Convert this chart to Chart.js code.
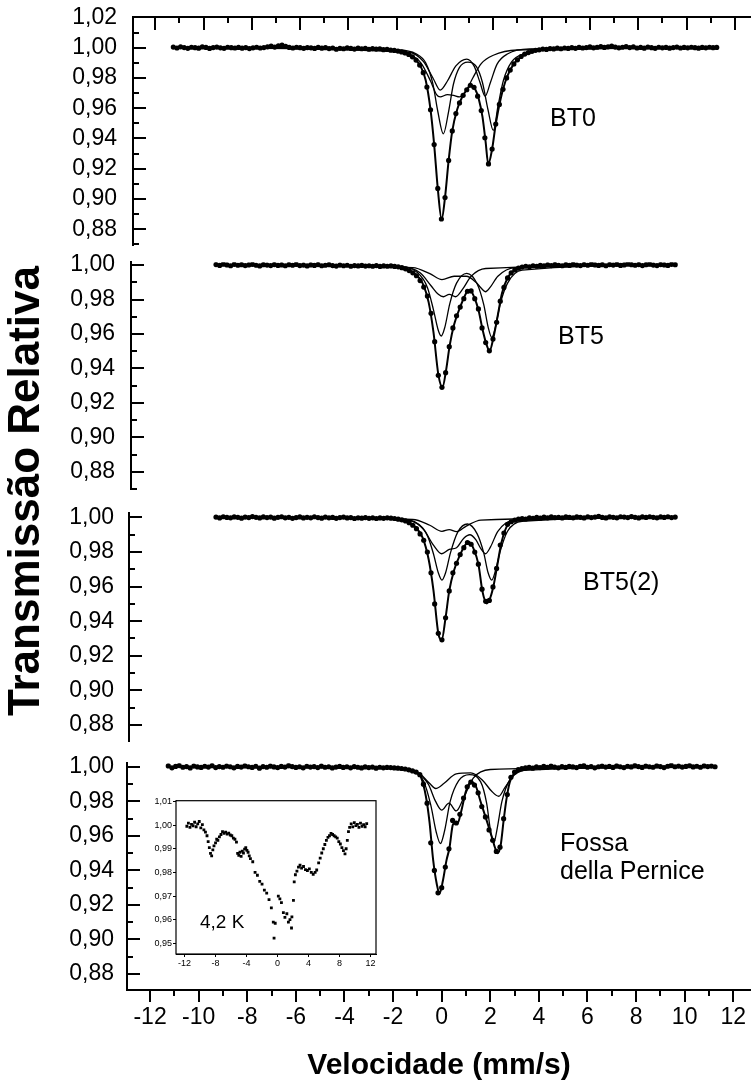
<!DOCTYPE html>
<html lang="pt">
<head>
<meta charset="utf-8">
<title>Espectros Mössbauer</title>
<script src="https://cdn.jsdelivr.net/npm/chart.js@4.4.1/dist/chart.umd.min.js"></script>
<style>
  html, body { margin: 0; padding: 0; background: #fff; }
  #fig { position: relative; width: 751px; height: 1091px; overflow: hidden; background: #fff;
         font-family: 'Liberation Sans', Arial, Helvetica, sans-serif; color: #000; }
  #fig canvas { position: absolute; }
  .txt { position: absolute; white-space: nowrap; line-height: 1; }
</style>
</head>
<body>
<div id="fig">
  <canvas id="pBT0"  width="751" height="258" style="left:0;top:0;width:751px;height:258px"></canvas>
  <canvas id="pBT5"  width="751" height="250" style="left:0;top:250px;width:751px;height:250px"></canvas>
  <canvas id="pBT52" width="751" height="250" style="left:0;top:500px;width:751px;height:250px"></canvas>
  <canvas id="pFP"   width="751" height="341" style="left:0;top:750px;width:751px;height:341px"></canvas>
  <canvas id="pInset" width="240" height="190" style="left:140px;top:790px;width:240px;height:190px"></canvas>

  <div class="txt" style="left:24px;top:491px;font-size:44px;font-weight:bold;transform:translate(-50%,-50%) rotate(-90deg);">Transmissão Relativa</div>
  <div class="txt" style="left:550px;top:105px;font-size:25px;">BT0</div>
  <div class="txt" style="left:558px;top:323px;font-size:25px;">BT5</div>
  <div class="txt" style="left:583px;top:569px;font-size:25px;">BT5(2)</div>
  <div class="txt" style="left:560px;top:830px;font-size:25px;">Fossa</div>
  <div class="txt" style="left:560px;top:858px;font-size:25px;">della Pernice</div>
  <div class="txt" style="left:200px;top:912px;font-size:19px;">4,2 K</div>
</div>

<script>
// ---- velocity channels (mm/s) ----
const velWide = [
  -11.25,-11.10,-10.95,-10.80,-10.65,-10.50,-10.35,-10.20,-10.05,-9.90,
  -9.75,-9.60,-9.45,-9.30,-9.15,-9.00,-8.85,-8.70,-8.55,-8.40,
  -8.25,-8.10,-7.95,-7.80,-7.65,-7.50,-7.35,-7.20,-7.05,-6.90,
  -6.75,-6.60,-6.45,-6.30,-6.15,-6.00,-5.85,-5.70,-5.55,-5.40,
  -5.25,-5.10,-4.95,-4.80,-4.65,-4.50,-4.35,-4.20,-4.05,-3.90,
  -3.75,-3.60,-3.45,-3.30,-3.15,-3.00,-2.85,-2.70,-2.55,-2.40,
  -2.25,-2.10,-1.95,-1.80,-1.65,-1.50,-1.35,-1.20,-1.05,-0.90,
  -0.75,-0.60,-0.45,-0.30,-0.15,0.00,0.15,0.30,0.45,0.60,
  0.75,0.90,1.05,1.20,1.35,1.50,1.65,1.80,1.95,2.10,
  2.25,2.40,2.55,2.70,2.85,3.00,3.15,3.30,3.45,3.60,
  3.75,3.90,4.05,4.20,4.35,4.50,4.65,4.80,4.95,5.10,
  5.25,5.40,5.55,5.70,5.85,6.00,6.15,6.30,6.45,6.60,
  6.75,6.90,7.05,7.20,7.35,7.50,7.65,7.80,7.95,8.10,
  8.25,8.40,8.55,8.70,8.85,9.00,9.15,9.30,9.45,9.60,
  9.75,9.90,10.05,10.20,10.35,10.50,10.65,10.80,10.95,11.10,
  11.25
];
const velNarrow = [
  -9.30,-9.15,-9.00,-8.85,-8.70,-8.55,-8.40,-8.25,-8.10,-7.95,
  -7.80,-7.65,-7.50,-7.35,-7.20,-7.05,-6.90,-6.75,-6.60,-6.45,
  -6.30,-6.15,-6.00,-5.85,-5.70,-5.55,-5.40,-5.25,-5.10,-4.95,
  -4.80,-4.65,-4.50,-4.35,-4.20,-4.05,-3.90,-3.75,-3.60,-3.45,
  -3.30,-3.15,-3.00,-2.85,-2.70,-2.55,-2.40,-2.25,-2.10,-1.95,
  -1.80,-1.65,-1.50,-1.35,-1.20,-1.05,-0.90,-0.75,-0.60,-0.45,
  -0.30,-0.15,0.00,0.15,0.30,0.45,0.60,0.75,0.90,1.05,
  1.20,1.35,1.50,1.65,1.80,1.95,2.10,2.25,2.40,2.55,
  2.70,2.85,3.00,3.15,3.30,3.45,3.60,3.75,3.90,4.05,
  4.20,4.35,4.50,4.65,4.80,4.95,5.10,5.25,5.40,5.55,
  5.70,5.85,6.00,6.15,6.30,6.45,6.60,6.75,6.90,7.05,
  7.20,7.35,7.50,7.65,7.80,7.95,8.10,8.25,8.40,8.55,
  8.70,8.85,9.00,9.15,9.30,9.45,9.60
];

// ---- measured relative transmission ----
const bt0Trans = [
  1.0004,0.9998,1.0006,1.0001,0.9996,1.0003,1.0000,0.9997,1.0005,1.0002,
  0.9995,1.0001,1.0004,0.9999,0.9996,1.0003,1.0000,0.9998,1.0002,0.9997,
  1.0001,0.9994,0.9999,1.0003,0.9998,1.0001,1.0006,1.0010,1.0004,1.0012,
  1.0017,1.0009,1.0002,0.9998,1.0003,1.0000,0.9996,1.0001,0.9999,0.9995,
  1.0002,0.9997,1.0000,0.9994,0.9998,0.9990,0.9996,0.9993,0.9999,0.9995,
  0.9991,0.9997,0.9993,0.9996,0.9990,0.9994,0.9991,0.9993,0.9987,0.9989,
  0.9984,0.9982,0.9978,0.9972,0.9965,0.9955,0.9940,0.9918,0.9885,0.9835,
  0.9740,0.9590,0.9360,0.9070,0.8868,0.9010,0.9255,0.9450,0.9565,0.9635,
  0.9685,0.9722,0.9752,0.9738,0.9680,0.9585,0.9405,0.9232,0.9330,0.9495,
  0.9625,0.9725,0.9800,0.9852,0.9893,0.9920,0.9942,0.9958,0.9968,0.9976,
  0.9983,0.9986,0.9991,0.9989,0.9994,0.9992,0.9997,0.9993,0.9998,0.9995,
  1.0000,0.9996,1.0002,0.9998,1.0001,1.0005,0.9999,1.0003,1.0008,1.0002,
  1.0006,1.0011,1.0004,0.9999,1.0003,1.0007,1.0001,1.0005,0.9998,1.0002,
  0.9997,1.0004,1.0000,0.9996,1.0003,0.9999,1.0002,0.9997,1.0001,1.0004,
  0.9998,1.0002,0.9999,1.0003,1.0000,0.9997,1.0002,0.9999,1.0003,1.0000,
  1.0002
];
const bt5Trans = [
  1.0003,0.9998,1.0005,1.0001,0.9996,1.0004,0.9999,1.0002,0.9997,1.0001,
  1.0004,0.9999,0.9995,1.0002,1.0000,0.9997,1.0003,0.9998,1.0001,0.9996,
  1.0002,0.9999,1.0004,0.9997,1.0000,0.9995,1.0001,0.9998,1.0003,0.9996,
  0.9999,1.0002,0.9997,0.9994,1.0000,0.9996,0.9999,0.9993,0.9997,0.9995,
  0.9998,0.9994,0.9996,0.9993,0.9997,0.9992,0.9995,0.9993,0.9995,0.9992,
  0.9990,0.9985,0.9978,0.9968,0.9955,0.9938,0.9910,0.9872,0.9820,0.9720,
  0.9555,0.9360,0.9290,0.9375,0.9526,0.9635,0.9705,0.9756,0.9805,0.9848,
  0.9850,0.9805,0.9745,0.9635,0.9550,0.9502,0.9570,0.9668,0.9790,0.9870,
  0.9925,0.9955,0.9972,0.9982,0.9988,0.9993,0.9990,0.9996,0.9993,0.9998,
  0.9995,1.0001,0.9997,1.0003,0.9999,0.9996,1.0002,0.9998,1.0004,1.0000,
  0.9997,1.0003,0.9999,1.0005,1.0001,0.9998,1.0002,0.9996,1.0003,1.0000,
  1.0004,0.9998,1.0001,1.0006,1.0002,0.9999,1.0003,0.9997,1.0002,1.0005,
  1.0000,0.9997,1.0003,1.0001,0.9998,1.0004,1.0002
];
const bt52Trans = [
  1.0002,0.9997,1.0004,1.0000,0.9998,1.0003,1.0001,0.9996,1.0002,0.9999,
  1.0005,1.0001,0.9997,1.0003,0.9999,1.0002,0.9996,1.0001,1.0004,0.9998,
  1.0001,0.9995,0.9999,1.0003,0.9997,1.0001,0.9998,1.0004,0.9999,0.9996,
  1.0002,0.9998,1.0000,0.9995,0.9999,1.0002,0.9997,0.9999,0.9994,0.9998,
  0.9996,0.9999,0.9995,0.9998,0.9994,0.9997,0.9995,0.9998,0.9996,0.9994,
  0.9990,0.9986,0.9980,0.9970,0.9955,0.9935,0.9905,0.9868,0.9800,0.9680,
  0.9500,0.9330,0.9292,0.9420,0.9575,0.9680,0.9735,0.9785,0.9825,0.9855,
  0.9845,0.9800,0.9730,0.9585,0.9515,0.9520,0.9598,0.9705,0.9840,0.9910,
  0.9960,0.9975,0.9984,0.9990,0.9994,0.9991,0.9997,0.9995,1.0000,0.9996,
  1.0002,0.9998,1.0003,0.9999,1.0001,0.9997,1.0004,1.0000,0.9998,1.0003,
  1.0001,0.9997,1.0004,0.9999,1.0002,1.0006,1.0000,0.9997,1.0003,1.0001,
  0.9998,1.0004,1.0002,0.9999,1.0005,1.0001,0.9997,1.0003,1.0000,1.0004,
  1.0001,0.9998,1.0003,1.0000,1.0004,0.9999,1.0002
];
const fpTrans = [
  1.0006,0.9995,1.0003,1.0008,0.9998,1.0002,0.9994,1.0005,1.0000,0.9997,
  1.0004,0.9999,1.0007,0.9996,1.0002,0.9998,1.0005,1.0001,0.9995,1.0003,
  0.9999,1.0006,1.0001,0.9997,1.0004,0.9993,1.0002,0.9998,1.0005,1.0000,
  0.9996,1.0003,0.9999,1.0008,1.0002,0.9997,1.0001,0.9995,1.0004,0.9999,
  1.0002,0.9996,1.0005,0.9998,1.0001,0.9994,0.9999,1.0003,0.9997,1.0001,
  0.9995,1.0002,0.9998,0.9994,1.0000,0.9996,0.9999,0.9993,0.9998,0.9995,
  0.9997,0.9996,0.9994,0.9993,0.9991,0.9988,0.9983,0.9977,0.9970,0.9955,
  0.9900,0.9790,0.9560,0.9400,0.9270,0.9300,0.9420,0.9525,0.9690,0.9675,
  0.9725,0.9820,0.9885,0.9912,0.9895,0.9850,0.9770,0.9710,0.9635,0.9575,
  0.9510,0.9535,0.9700,0.9840,0.9940,0.9970,0.9984,0.9990,0.9994,0.9997,
  0.9993,1.0001,0.9996,1.0003,0.9998,1.0005,0.9999,0.9995,1.0002,0.9997,
  1.0004,1.0000,0.9996,1.0003,1.0007,0.9998,1.0002,0.9995,1.0001,1.0005,
  0.9999,1.0003,0.9997,1.0006,1.0001,0.9996,1.0004,1.0000,1.0008,1.0002,
  0.9997,1.0005,1.0001,0.9998,1.0006,1.0002,0.9996,1.0004,1.0009,1.0001,
  1.0005,0.9999,1.0003,1.0007,1.0000,1.0004,0.9998,1.0006,1.0002,1.0005,
  1.0001
];

// ---- fitted envelopes and subspectra, [velocity, transmission] ----
const bt0Fit = [[-11.3,1.0],[-3.0,0.9993],[-2.4,0.9988],[-2.0,0.9981],[-1.6,0.9963],[-1.3,0.9935],[-1.0,0.9873],[-0.8,0.9785],[-0.6,0.9590],[-0.45,0.9360],[-0.3,0.9070],[-0.14,0.8866],[0.0,0.9010],[0.15,0.9255],[0.3,0.9450],[0.5,0.9590],[0.7,0.9670],[0.9,0.9722],[1.08,0.9752],[1.25,0.9725],[1.4,0.9660],[1.55,0.9545],[1.68,0.9380],[1.79,0.9232],[1.95,0.9330],[2.1,0.9495],[2.3,0.9660],[2.55,0.9800],[2.85,0.9893],[3.2,0.9945],[3.8,0.9980],[5.0,0.9995],[11.3,1.0]];
const bt0SubA = [[-11.3,1.0],[-2.0,0.9985],[-1.2,0.9960],[-0.8,0.9900],[-0.5,0.9760],[-0.3,0.9580],[-0.07,0.9431],[0.15,0.9580],[0.35,0.9760],[0.6,0.9870],[0.95,0.9905],[1.3,0.9875],[1.55,0.9770],[1.78,0.9590],[2.0,0.9453],[2.2,0.9620],[2.42,0.9785],[2.75,0.9905],[3.3,0.9962],[4.5,0.9988],[11.3,1.0]];
const bt0SubB = [[-11.3,1.0],[-2.5,0.9990],[-1.5,0.9960],[-1.0,0.9900],[-0.6,0.9780],[-0.35,0.9690],[-0.2,0.9675],[0.1,0.9690],[0.35,0.9685],[0.6,0.9675],[0.85,0.9710],[1.15,0.9800],[1.5,0.9895],[2.0,0.9950],[3.0,0.9985],[11.3,1.0]];
const bt0SubC = [[-11.3,1.0],[-1.5,0.9970],[-0.9,0.9910],[-0.5,0.9800],[-0.2,0.9720],[0.1,0.9780],[0.45,0.9880],[0.9,0.9925],[1.2,0.9880],[1.45,0.9770],[1.66,0.9680],[1.88,0.9770],[2.15,0.9890],[2.6,0.9960],[3.5,0.9992],[11.3,1.0]];

const bt5Fit = [[-9.3,1.0],[-2.5,0.9993],[-1.6,0.9982],[-1.1,0.9948],[-0.8,0.9895],[-0.55,0.9785],[-0.35,0.9610],[-0.15,0.9365],[0.02,0.9290],[0.17,0.9390],[0.32,0.9535],[0.5,0.9655],[0.75,0.9756],[1.0,0.9838],[1.15,0.9855],[1.32,0.9815],[1.5,0.9740],[1.68,0.9620],[1.82,0.9545],[1.96,0.9502],[2.12,0.9580],[2.3,0.9710],[2.47,0.9836],[2.7,0.9925],[3.0,0.9972],[3.6,0.9990],[9.6,1.0]];
const bt5SubA = [[-9.3,1.0],[-1.8,0.9990],[-1.0,0.9955],[-0.6,0.9870],[-0.35,0.9740],[-0.15,0.9620],[-0.03,0.9588],[0.12,0.9640],[0.32,0.9775],[0.6,0.9895],[1.02,0.9952],[1.45,0.9890],[1.72,0.9770],[1.9,0.9640],[2.05,0.9580],[2.2,0.9640],[2.4,0.9775],[2.7,0.9895],[3.3,0.9970],[9.6,1.0]];
const bt5SubB = [[-9.3,1.0],[-1.6,0.9990],[-0.9,0.9955],[-0.45,0.9880],[-0.15,0.9830],[0.06,0.9816],[0.3,0.9830],[0.56,0.9816],[0.85,0.9860],[1.2,0.9935],[1.8,0.9980],[9.6,1.0]];
const bt5SubC = [[-9.3,1.0],[-1.2,0.9985],[-0.5,0.9950],[0.0,0.9915],[0.5,0.9935],[1.0,0.9935],[1.4,0.9900],[1.62,0.9865],[1.79,0.9845],[1.98,0.9870],[2.3,0.9935],[3.0,0.9985],[9.6,1.0]];

const bt52Fit = [[-9.3,1.0],[-2.5,0.9995],[-1.6,0.9984],[-1.1,0.9945],[-0.8,0.9885],[-0.55,0.9760],[-0.35,0.9580],[-0.15,0.9330],[-0.01,0.9291],[0.14,0.9410],[0.3,0.9575],[0.5,0.9695],[0.75,0.9785],[1.0,0.9848],[1.12,0.9858],[1.3,0.9820],[1.5,0.9730],[1.67,0.9570],[1.85,0.9503],[2.0,0.9540],[2.13,0.9609],[2.28,0.9725],[2.45,0.9855],[2.7,0.9955],[3.2,0.9988],[9.6,1.0]];
const bt52SubA = [[-9.3,1.0],[-1.8,0.9992],[-1.0,0.9962],[-0.6,0.9895],[-0.35,0.9790],[-0.15,0.9680],[0.0,0.9638],[0.15,0.9680],[0.35,0.9795],[0.65,0.9915],[1.05,0.9962],[1.45,0.9905],[1.72,0.9795],[1.9,0.9680],[2.05,0.9638],[2.2,0.9690],[2.4,0.9805],[2.7,0.9920],[3.3,0.9978],[9.6,1.0]];
const bt52SubB = [[-9.3,1.0],[-1.5,0.9988],[-0.8,0.9940],[-0.35,0.9840],[-0.01,0.9790],[0.3,0.9815],[0.6,0.9825],[0.9,0.9880],[1.15,0.9900],[1.4,0.9870],[1.6,0.9820],[1.79,0.9790],[2.0,0.9830],[2.3,0.9920],[2.9,0.9980],[9.6,1.0]];
const bt52SubC = [[-9.3,1.0],[-1.2,0.9988],[-0.5,0.9955],[0.0,0.9920],[0.3,0.9930],[0.6,0.9918],[1.0,0.9950],[1.6,0.9985],[9.6,1.0]];

const fpFit = [[-11.3,1.0],[-2.5,0.9996],[-1.6,0.9990],[-1.1,0.9972],[-0.85,0.9940],[-0.65,0.9830],[-0.5,0.9680],[-0.35,0.9460],[-0.2,0.9320],[-0.09,0.9265],[0.05,0.9340],[0.2,0.9460],[0.32,0.9530],[0.45,0.9660],[0.55,0.9680],[0.65,0.9672],[0.8,0.9740],[1.0,0.9860],[1.2,0.9912],[1.4,0.9890],[1.6,0.9800],[1.85,0.9690],[2.06,0.9596],[2.2,0.9530],[2.31,0.9500],[2.43,0.9548],[2.55,0.9690],[2.66,0.9808],[2.8,0.9910],[3.0,0.9965],[3.5,0.9990],[11.3,1.0]];
const fpSubA = [[-11.3,1.0],[-2.0,0.9993],[-1.2,0.9975],[-0.75,0.9920],[-0.45,0.9780],[-0.22,0.9620],[-0.05,0.9556],[0.12,0.9630],[0.35,0.9800],[0.7,0.9920],[1.15,0.9955],[1.6,0.9915],[1.85,0.9790],[2.0,0.9640],[2.14,0.9558],[2.28,0.9640],[2.48,0.9800],[2.8,0.9925],[3.4,0.9980],[11.3,1.0]];
const fpSubB = [[-11.3,1.0],[-1.8,0.9992],[-1.0,0.9965],[-0.55,0.9900],[-0.25,0.9800],[0.0,0.9750],[0.3,0.9790],[0.6,0.9745],[0.9,0.9820],[1.3,0.9935],[2.0,0.9985],[11.3,1.0]];
const fpSubC = [[-11.3,1.0],[-1.6,0.9990],[-0.9,0.9960],[-0.5,0.9905],[-0.25,0.9875],[0.1,0.9905],[0.6,0.9960],[1.2,0.9965],[1.7,0.9920],[2.05,0.9860],[2.35,0.9830],[2.6,0.9880],[3.0,0.9955],[3.8,0.9990],[11.3,1.0]];

// ---- 4,2 K spectrum (inset) ----
const insetVel = [
  -11.7,-11.5,-11.3,-11.1,-10.9,-10.7,-10.5,-10.3,-10.1,-9.9,-9.7,-9.5,-9.3,
  -9.1,-8.95,-8.8,-8.65,-8.5,-8.35,-8.2,-8.0,-7.85,-7.7,-7.5,-7.3,-7.1,-6.9,-6.7,-6.5,-6.3,-6.1,-5.9,-5.7,-5.5,-5.3,
  -5.15,-5.0,-4.85,-4.7,-4.55,-4.4,-4.25,-4.1,-3.95,-3.8,-3.65,-3.5,
  -3.2,-2.9,-2.6,-2.3,-2.0,-1.7,-1.4,-1.1,-0.8,-0.55,-0.45,-0.3,
  0.1,0.3,0.5,0.75,0.95,1.2,1.4,1.6,1.8,1.85,2.05,
  2.15,2.3,2.5,2.7,2.9,3.1,3.35,3.6,3.85,4.1,4.35,4.6,4.85,5.05,
  5.3,5.5,5.7,5.9,6.1,6.3,6.5,6.7,6.9,7.1,7.3,7.5,7.7,7.9,8.1,8.3,8.5,8.7,8.85,
  9.0,9.15,9.3,9.5,9.7,9.9,10.1,10.3,10.5,10.7,10.9,11.1,11.3,11.5
];
const insetTrans = [
  0.9995,1.0008,0.9990,1.0003,0.9997,1.0012,0.9993,1.0005,1.0015,0.9988,1.0002,0.9980,0.9970,
  0.9955,0.9930,0.9905,0.9880,0.9870,0.9895,0.9912,0.9925,0.9940,0.9935,0.9950,0.9960,0.9972,0.9965,0.9970,0.9962,0.9966,0.9958,0.9955,0.9945,0.9940,0.9928,
  0.9880,0.9872,0.9885,0.9868,0.9890,0.9882,0.9898,0.9905,0.9893,0.9885,0.9870,0.9858,
  0.9845,0.9800,0.9788,0.9762,0.9750,0.9725,0.9712,0.9685,0.9650,0.9590,0.9522,0.9585,
  0.9700,0.9688,0.9672,0.9630,0.9610,0.9625,0.9590,0.9600,0.9565,0.9612,0.9682,
  0.9760,0.9790,0.9805,0.9822,0.9830,0.9818,0.9825,0.9812,0.9808,0.9815,0.9800,0.9792,0.9800,0.9810,
  0.9840,0.9860,0.9882,0.9900,0.9918,0.9935,0.9948,0.9955,0.9965,0.9960,0.9955,0.9950,0.9945,0.9930,0.9920,0.9905,0.9892,0.9878,0.9900,
  0.9935,0.9972,0.9990,1.0005,0.9992,1.0010,0.9998,1.0003,0.9990,1.0008,0.9995,1.0002,0.9993,1.0006
];

// ---- drawing ----
const FONT = "'Liberation Sans', Arial, Helvetica, sans-serif";
Chart.defaults.font.family = FONT;
Chart.defaults.color = '#000';

const comma = v => Number(v).toFixed(2).replace('.', ',');
const pts = (xs, ys) => xs.map((v, i) => ({ x: v, y: ys[i] }));
const pairs = arr => arr.map(p => ({ x: p[0], y: p[1] }));

// keep the plot box exactly where the layout puts it (no extra room for edge labels)
function noEdgePadding(s) {
  s.paddingTop = 0; s.paddingBottom = 0; s.paddingLeft = 0; s.paddingRight = 0;
}

function tickValues(min, max, step) {
  const out = [];
  const k0 = Math.ceil(min / step - 1e-6), k1 = Math.floor(max / step + 1e-6);
  for (let k = k0; k <= k1; k++) out.push({ v: k * step, major: k % 2 === 0 });
  return out;
}

// frame ticks: inward on the left axis and on the top edge, outward under the bottom axis
const frameTicks = {
  id: 'frameTicks',
  afterDatasetsDraw(chart, args, o) {
    const { ctx, chartArea: a, scales: { x, y } } = chart;
    ctx.save();
    ctx.strokeStyle = '#000';
    ctx.lineWidth = 2;
    ctx.beginPath();
    if (o.left) {
      tickValues(y.min, y.max, o.left.step).forEach(t => {
        const p = Math.round(y.getPixelForValue(t.v));
        ctx.moveTo(a.left, p);
        ctx.lineTo(a.left + (t.major ? o.left.major : o.left.minor), p);
      });
    }
    if (o.top) {
      ctx.moveTo(a.left - 1, a.top);
      ctx.lineTo(a.right, a.top);
      tickValues(x.min, x.max, o.top.step).forEach(t => {
        const p = Math.round(x.getPixelForValue(t.v));
        ctx.moveTo(p, a.top);
        ctx.lineTo(p, a.top + (t.major ? o.top.major : o.top.minor));
      });
    }
    if (o.bottom) {
      tickValues(x.min, x.max, o.bottom.step).forEach(t => {
        const p = Math.round(x.getPixelForValue(t.v));
        ctx.moveTo(p, a.bottom);
        ctx.lineTo(p, a.bottom + (t.major ? o.bottom.major : o.bottom.minor));
      });
    }
    ctx.stroke();
    ctx.restore();
  }
};

function spectrumDatasets(vel, trans, fit, subs) {
  const list = [{
    type: 'scatter', data: pts(vel, trans), showLine: false,
    pointRadius: 2.6, pointBackgroundColor: '#000', pointBorderColor: '#000', pointBorderWidth: 0
  }, {
    type: 'line', data: pairs(fit), borderColor: '#000', borderWidth: 2,
    pointRadius: 0, cubicInterpolationMode: 'monotone', fill: false
  }];
  subs.forEach(s => list.push({
    type: 'line', data: pairs(s), borderColor: '#000', borderWidth: 1.3,
    pointRadius: 0, cubicInterpolationMode: 'monotone', fill: false
  }));
  return list;
}

function panel(id, c) {
  return new Chart(document.getElementById(id), {
    type: 'scatter',
    data: { datasets: spectrumDatasets(c.vel, c.trans, c.fit, c.subs) },
    options: {
      responsive: false, animation: false, events: [],
      layout: { padding: { top: c.padTop, bottom: c.padBottom || 0, left: 0, right: 0 }, autoPadding: false },
      plugins: {
        legend: { display: false }, tooltip: { enabled: false },
        frameTicks: c.ticks
      },
      scales: {
        x: Object.assign({
          type: 'linear', min: c.xMin, max: c.xMax, display: !!c.xAxis,
          afterFit: noEdgePadding
        }, c.xAxis || {}),
        y: {
          type: 'linear', min: c.yMin, max: c.yMax,
          ticks: {
            stepSize: 0.02, includeBounds: false, autoSkip: false,
            callback: comma, font: { size: 23 }, color: '#000', padding: c.labelPad
          },
          grid: { display: false, drawTicks: false },
          border: { display: true, color: '#000', width: 2 },
          afterFit: s => { s.width = c.axisX; noEdgePadding(s); }
        }
      }
    },
    plugins: [frameTicks]
  });
}

const yTicks = { step: 0.01, major: 13, minor: 6 };

panel('pBT0', {
  vel: velWide, trans: bt0Trans, fit: bt0Fit, subs: [bt0SubA, bt0SubB, bt0SubC],
  xMin: -12.92, xMax: 12.67, yMin: 0.8696, yMax: 1.0203,
  axisX: 133, labelPad: 16, padTop: 17, padBottom: 13,
  ticks: { left: yTicks, top: { step: 1, major: 13, minor: 6 } }
});

panel('pBT5', {
  vel: velNarrow, trans: bt5Trans, fit: bt5Fit, subs: [bt5SubA, bt5SubB, bt5SubC],
  xMin: -12.80, xMax: 12.72, yMin: 0.8698, yMax: 1.0016,
  axisX: 131, labelPad: 16, padTop: 12.3, padBottom: 10.7,
  ticks: { left: yTicks }
});

panel('pBT52', {
  vel: velNarrow, trans: bt52Trans, fit: bt52Fit, subs: [bt52SubA, bt52SubB, bt52SubC],
  xMin: -12.88, xMax: 12.72, yMin: 0.8703, yMax: 1.0024,
  axisX: 129, labelPad: 15, padTop: 13.3, padBottom: 8.3,
  ticks: { left: yTicks }
});

panel('pFP', {
  vel: velWide, trans: fpTrans, fit: fpFit, subs: [fpSubA, fpSubB, fpSubC],
  xMin: -12.95, xMax: 12.73, yMin: 0.8707, yMax: 1.0021,
  axisX: 127, labelPad: 13, padTop: 13.3, padBottom: 0,
  ticks: { left: yTicks, bottom: { step: 1, major: 12, minor: 6 } },
  xAxis: {
    position: 'bottom',
    ticks: { stepSize: 2, includeBounds: false, autoSkip: false, maxRotation: 0,
             font: { size: 23 }, color: '#000', padding: 14 },
    grid: { display: false, drawTicks: false },
    border: { display: true, color: '#000', width: 2 },
    title: { display: true, text: 'Velocidade (mm/s)', color: '#000',
             font: { size: 30, weight: 'bold' }, padding: { top: 0, bottom: 7 } },
    afterFit: s => { s.height = 101; noEdgePadding(s); }
  }
});

// inset: boxed frame with white background
const insetFrame = {
  id: 'insetFrame',
  beforeDatasetsDraw(chart) {
    const { ctx, chartArea: a } = chart;
    ctx.save();
    ctx.fillStyle = '#fff';
    ctx.fillRect(a.left, a.top, a.right - a.left, a.bottom - a.top);
    ctx.restore();
  },
  afterDraw(chart) {
    const { ctx, chartArea: a } = chart;
    ctx.save();
    ctx.strokeStyle = '#000';
    ctx.lineWidth = 1.2;
    ctx.strokeRect(a.left, a.top, a.right - a.left, a.bottom - a.top);
    ctx.restore();
  }
};

const insetGrid = { display: true, drawOnChartArea: false, drawTicks: true, tickLength: 3, color: '#000', lineWidth: 1 };
new Chart(document.getElementById('pInset'), {
  type: 'scatter',
  data: { datasets: [{
    data: pts(insetVel, insetTrans), pointStyle: 'rect', pointRadius: 2,
    pointBackgroundColor: '#000', pointBorderColor: '#000', pointBorderWidth: 0
  }] },
  options: {
    responsive: false, animation: false, events: [],
    layout: { padding: { top: 10.7, right: 4, left: 0, bottom: 0 }, autoPadding: false },
    plugins: { legend: { display: false }, tooltip: { enabled: false } },
    scales: {
      x: {
        type: 'linear', min: -13.1, max: 12.7,
        ticks: { stepSize: 4, includeBounds: false, autoSkip: false, maxRotation: 0,
                 font: { size: 9 }, color: '#000', padding: 1 },
        grid: insetGrid,
        border: { display: true, color: '#000', width: 1 },
        afterFit: s => { s.height = 26; noEdgePadding(s); }
      },
      y: {
        type: 'linear', min: 0.9455, max: 1.0103,
        ticks: { stepSize: 0.01, includeBounds: false, autoSkip: false,
                 callback: comma, font: { size: 9 }, color: '#000', padding: 1 },
        grid: insetGrid,
        border: { display: true, color: '#000', width: 1 },
        afterFit: s => { s.width = 36; noEdgePadding(s); }
      }
    }
  },
  plugins: [insetFrame]
});
</script>
</body>
</html>
